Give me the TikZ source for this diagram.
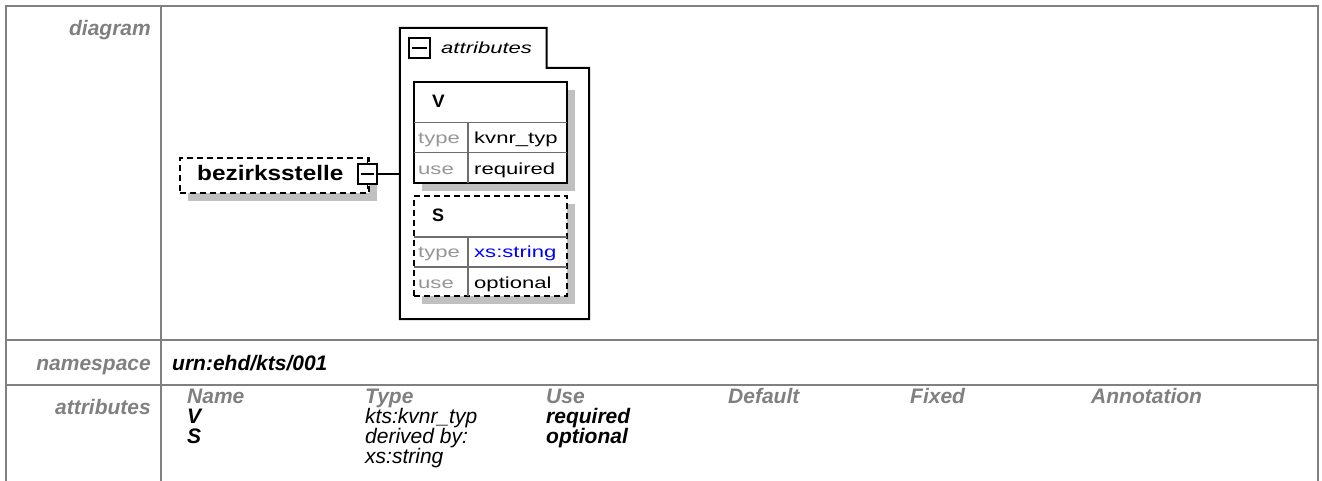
\documentclass[tikz,border=0pt]{standalone}
\usepackage{fontspec}
\setmainfont{Liberation Sans}
\usepackage{graphicx}
\usetikzlibrary{shadows}
\definecolor{gridgray}{RGB}{128,128,128}
\definecolor{lblgray}{RGB}{128,128,128}
\definecolor{shgray}{RGB}{192,192,192}
\definecolor{tugray}{RGB}{150,150,150}
\definecolor{linkblue}{RGB}{0,0,255}
\definecolor{innergray}{RGB}{110,110,110}
\newcommand\hstr[1]{\scalebox{1.38}[1]{#1}}
\begin{document}
\begin{tikzpicture}[x=1pt,y=-1pt,
  gridline/.style={draw=gridgray, line width=2pt},
  lbl/.style={anchor=base east, inner sep=0pt, text=lblgray, font=\fontsize{21}{25}\selectfont\bfseries\itshape},
  colhdr/.style={anchor=base west, inner sep=0pt, text=lblgray, font=\fontsize{21}{25}\selectfont\bfseries\itshape},
  val/.style={anchor=base west, inner sep=0pt, font=\fontsize{21}{25}\selectfont\itshape},
  valb/.style={anchor=base west, inner sep=0pt, font=\fontsize{21}{25}\selectfont\bfseries\itshape},
  small/.style={anchor=base west, inner sep=0pt, font=\fontsize{16}{19}\selectfont},
  smallgray/.style={small, text=tugray},
  boxshadow/.style={general shadow={fill=shgray, shadow xshift=8pt, shadow yshift=-8pt}},
  solidbox/.style={rectangle, draw=black, line width=2pt, fill=white, inner sep=0pt, boxshadow},
  dashbox/.style={rectangle, draw=black, line width=1.8pt, dash pattern=on 6pt off 4pt, fill=white, inner sep=0pt, boxshadow},
  togglebox/.style={rectangle, draw=black, line width=1.5pt, fill=white, inner sep=0pt},
  innerline/.style={draw=innergray, line width=1.2pt},
  wire/.style={draw=black, line width=1.5pt}
]
\useasboundingbox (0,0) rectangle (1322,481);

% ---------- table grid ----------
\draw[gridline] (6,481) -- (6,6) -- (1318,6) -- (1318,481);
\draw[gridline] (6,340) -- (1318,340);
\draw[gridline] (6,385) -- (1318,385);
\draw[gridline] (161,6) -- (161,481);

% ---------- labels ----------
\node[lbl] (l-diagram) at (151,36) {diagram};
\node[lbl] (l-namespace) at (151,370) {namespace};
\node[lbl] (l-attributes) at (151,414) {attributes};

\node[valb] (ns) at (172,370) {urn:ehd/kts/001};

% ---------- attributes table ----------
\node[colhdr] (h-name) at (187,403) {Name};
\node[colhdr] (h-type) at (365,403) {Type};
\node[colhdr] (h-use) at (546,403) {Use};
\node[colhdr] (h-default) at (728,403) {Default};
\node[colhdr] (h-fixed) at (910,403) {Fixed};
\node[colhdr] (h-annot) at (1091,403) {Annotation};

\node[valb] (r1-name) at (187,423) {V};
\node[val]  (r1-type) at (365,423) {kts:kvnr\_typ};
\node[valb] (r1-use)  at (546,423) {required};
\node[valb] (r2-name) at (187,443) {S};
\node[val]  (r2-type) at (365,443) {derived by:};
\node[val]  (r2-type2) at (365,463) {xs:string};
\node[valb] (r2-use)  at (546,443) {optional};

% ---------- diagram ----------
% element bezirksstelle
\node[dashbox, minimum width=189pt, minimum height=35pt] (bez) at (274.5,175.5) {};
\node[anchor=base west, inner sep=0pt, font=\fontsize{21}{25}\selectfont\bfseries] (bez-txt) at (197,180.7) {\scalebox{1.16}[1]{bezirksstelle}};
\node[togglebox, minimum width=19pt, minimum height=20pt] (tog) at (367.5,174) {};
\draw[wire] ([xshift=3.5pt]tog.west) -- ([xshift=-3.5pt]tog.east);
\draw[wire] (tog.north) -- (tog.north |- bez.north);
\draw[wire] (tog.south) -- ++(0,4);

% attribute group
\node[rectangle, inner sep=0pt, minimum width=189pt, minimum height=291pt] (grp) at (494.5,173.5) {};
\draw[draw=black, line width=2pt] (grp.north west) -- (546.7,28) -- (546.7,68) -- (589,68) -- (grp.south east) -- (grp.south west) -- cycle;
\draw[wire] (tog.east) -- (tog.east -| grp.west);
\node[togglebox, minimum width=21pt, minimum height=20pt] (gtog) at (419.5,48) {};
\draw[wire] ([xshift=3.5pt]gtog.west) -- ([xshift=-3.5pt]gtog.east);
\node[small, font=\fontsize{16}{19}\selectfont\itshape] (grp-txt) at (441,54) {\hstr{attributes}};

% attribute V
\node[solidbox, minimum width=153pt, minimum height=101pt] (vbox) at (490.5,132.5) {};
\draw[innerline] (414,122.7) -- (567,122.7);
\draw[innerline] (414,152.7) -- (567,152.7);
\draw[innerline] (468,122.7) -- (468,183);
\node[anchor=base west, inner sep=0pt, font=\fontsize{18}{21}\selectfont\bfseries] (v-name) at (432,108) {\scalebox{1.05}[1]{V}};
\node[smallgray] (v-tl) at (418,143.3) {\hstr{type}};
\node[small] (v-tv) at (474,143.3) {\hstr{kvnr\_typ}};
\node[smallgray] (v-ul) at (418,174.3) {\hstr{use}};
\node[small] (v-uv) at (474,174.3) {\hstr{required}};

% attribute S
\node[dashbox, minimum width=153pt, minimum height=100pt] (sbox) at (490.5,246) {};
\draw[innerline] (414,237) -- (567,237);
\draw[innerline] (414,267) -- (567,267);
\draw[innerline] (468,237) -- (468,296);
\node[anchor=base west, inner sep=0pt, font=\fontsize{18}{21}\selectfont\bfseries] (s-name) at (432,222) {S};
\node[smallgray] (s-tl) at (418,257.6) {\hstr{type}};
\node[small, text=linkblue] (s-tv) at (474,257.6) {\hstr{xs:string}};
\node[smallgray] (s-ul) at (418,288.6) {\hstr{use}};
\node[small] (s-uv) at (474,288.6) {\hstr{optional}};
\end{tikzpicture}
\end{document}
